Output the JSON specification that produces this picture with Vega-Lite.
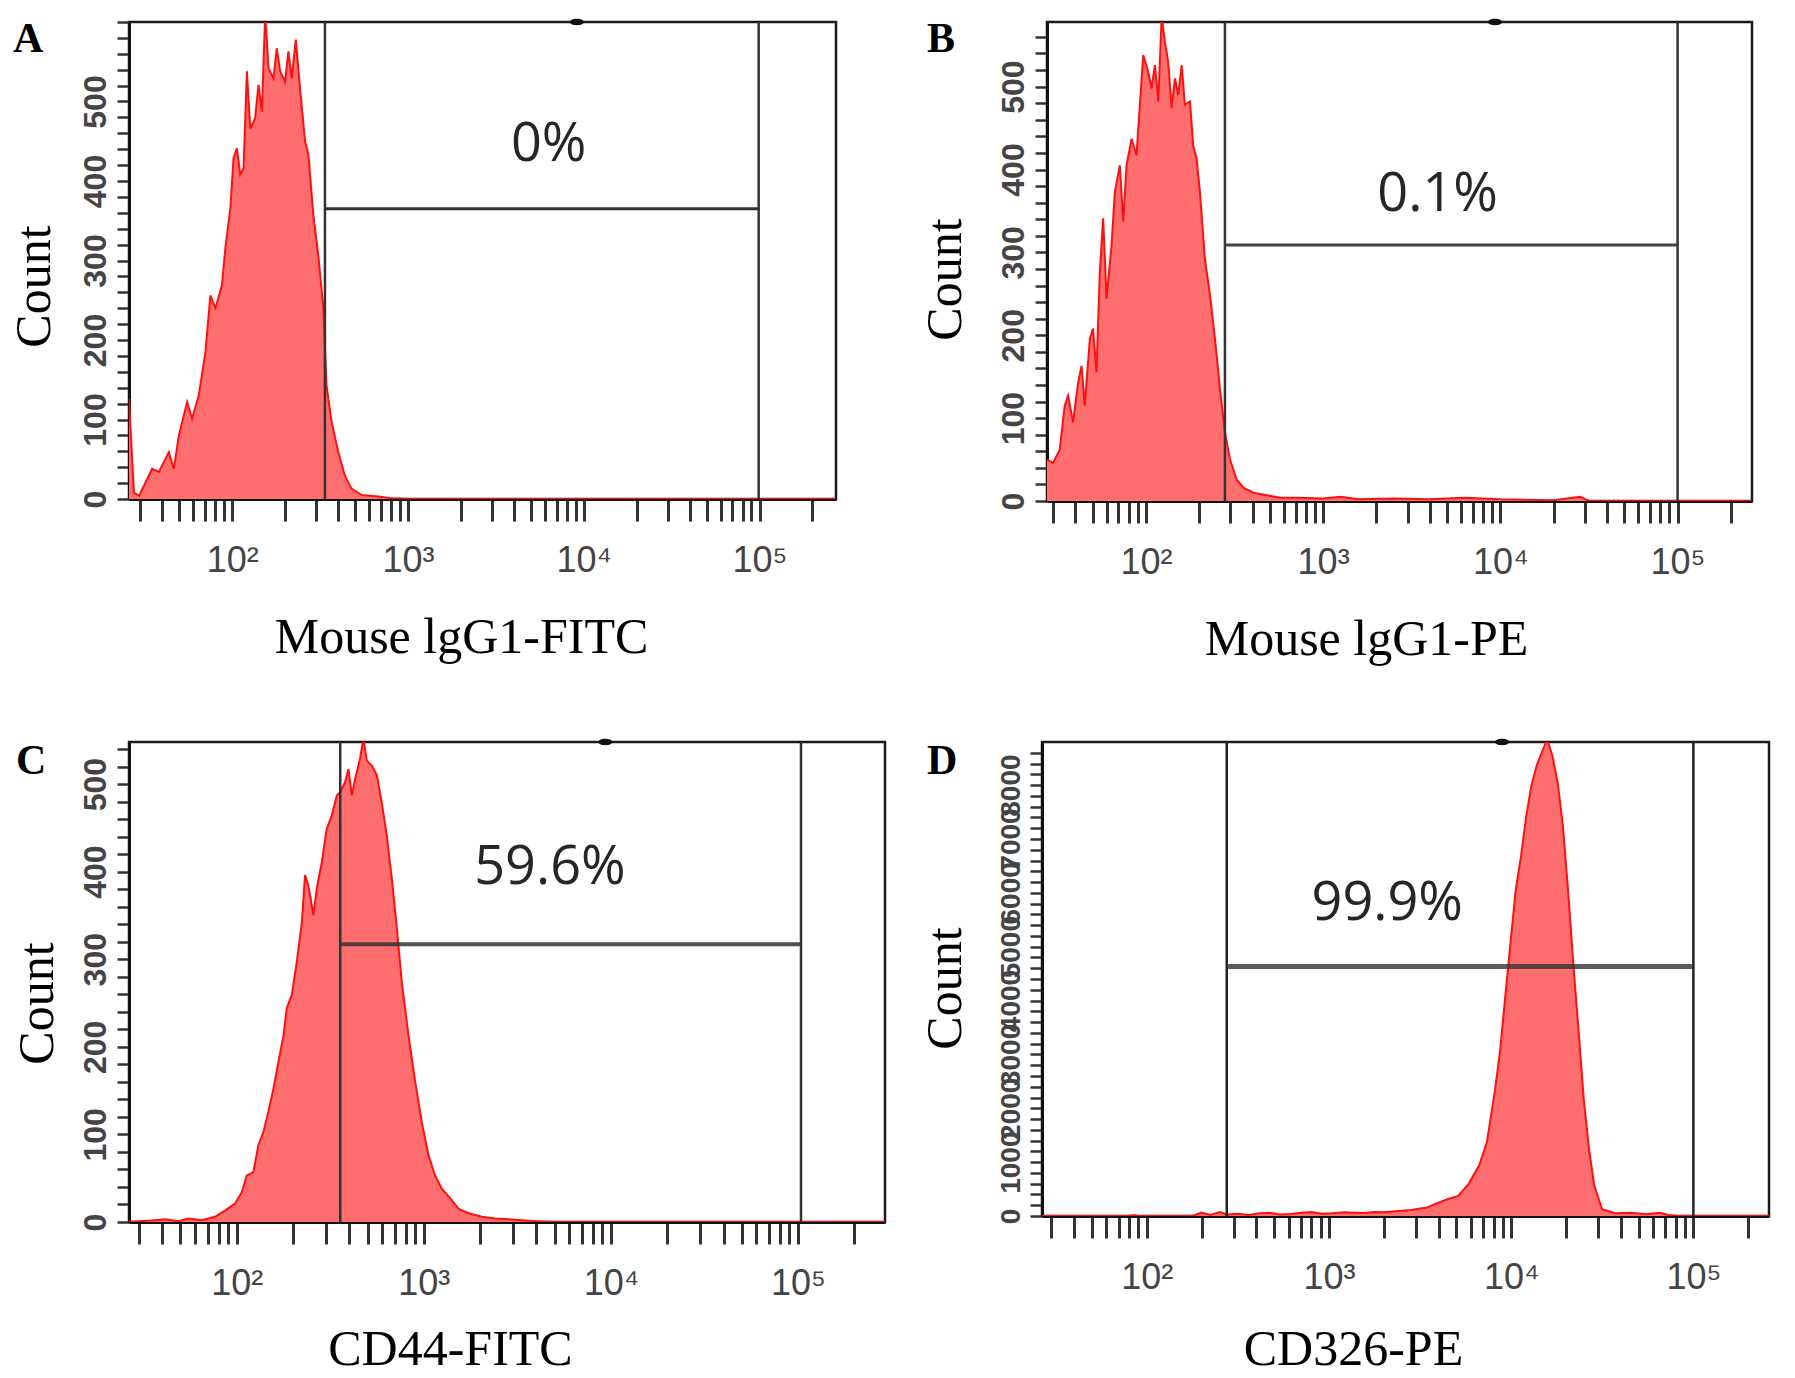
{
  "$schema": "https://vega.github.io/schema/vega-lite/v6.json",
  "padding": {"left": 7, "top": 16, "right": 0, "bottom": 0},
  "background": "white",
  "config": {
    "view": {"stroke": "#1a1a1a", "strokeWidth": 2.5},
    "axis": {
      "grid": false, "domainColor": "#111", "domainWidth": 3, "tickColor": "#333", "tickCount": 1000,
      "labelOverlap": false, "labelBound": false, "labelFlush": false,
      "titleFont": "Liberation Serif", "titleFontSize": 50, "titleFontWeight": "normal", "titleColor": "#000"
    },
    "axisX": {
      "tickSize": 22, "tickWidth": 3, "labelFont": "Liberation Sans Narrow, Liberation Sans",
      "labelFontSize": 36, "labelColor": "#444", "labelPadding": 22, "titlePadding": 34
    },
    "axisY": {
      "tickSize": 12, "tickWidth": 2.5, "labelAngle": 270, "labelFont": "Liberation Sans",
      "labelFontWeight": "bold", "labelFontSize": 32, "labelColor": "#444", "labelPadding": 5, "titlePadding": 20
    },
    "title": {"anchor": "start", "frame": "bounds", "font": "Liberation Serif", "fontSize": 42, "fontWeight": "bold", "color": "#000", "offset": -44}
  },
  "datasets": {
    "histA": [
      {"log_intensity": 1.412, "count": 126}, {"log_intensity": 1.44, "count": 8}, {"log_intensity": 1.469, "count": 4},
      {"log_intensity": 1.507, "count": 21}, {"log_intensity": 1.544, "count": 38}, {"log_intensity": 1.582, "count": 34},
      {"log_intensity": 1.639, "count": 59}, {"log_intensity": 1.667, "count": 38}, {"log_intensity": 1.696, "count": 80},
      {"log_intensity": 1.743, "count": 122}, {"log_intensity": 1.771, "count": 101}, {"log_intensity": 1.809, "count": 130},
      {"log_intensity": 1.847, "count": 185}, {"log_intensity": 1.875, "count": 256}, {"log_intensity": 1.904, "count": 240},
      {"log_intensity": 1.941, "count": 269}, {"log_intensity": 1.96, "count": 315}, {"log_intensity": 1.989, "count": 366},
      {"log_intensity": 2.007, "count": 429}, {"log_intensity": 2.026, "count": 441}, {"log_intensity": 2.045, "count": 408},
      {"log_intensity": 2.064, "count": 416}, {"log_intensity": 2.083, "count": 538}, {"log_intensity": 2.102, "count": 466},
      {"log_intensity": 2.13, "count": 479}, {"log_intensity": 2.149, "count": 521}, {"log_intensity": 2.168, "count": 487},
      {"log_intensity": 2.187, "count": 610}, {"log_intensity": 2.206, "count": 542}, {"log_intensity": 2.234, "count": 529},
      {"log_intensity": 2.253, "count": 567}, {"log_intensity": 2.272, "count": 538}, {"log_intensity": 2.3, "count": 525},
      {"log_intensity": 2.319, "count": 563}, {"log_intensity": 2.338, "count": 529}, {"log_intensity": 2.361, "count": 578},
      {"log_intensity": 2.385, "count": 517}, {"log_intensity": 2.414, "count": 450}, {"log_intensity": 2.433, "count": 433},
      {"log_intensity": 2.461, "count": 357}, {"log_intensity": 2.489, "count": 307}, {"log_intensity": 2.518, "count": 240},
      {"log_intensity": 2.536, "count": 143}, {"log_intensity": 2.565, "count": 97}, {"log_intensity": 2.603, "count": 59},
      {"log_intensity": 2.641, "count": 29}, {"log_intensity": 2.678, "count": 13}, {"log_intensity": 2.735, "count": 5},
      {"log_intensity": 2.829, "count": 3}, {"log_intensity": 2.905, "count": 1}, {"log_intensity": 3.0, "count": 0},
      {"log_intensity": 5.435, "count": 0}
    ],
    "histB": [
      {"log_intensity": 1.442, "count": 50}, {"log_intensity": 1.476, "count": 46}, {"log_intensity": 1.514, "count": 62},
      {"log_intensity": 1.542, "count": 115}, {"log_intensity": 1.561, "count": 127}, {"log_intensity": 1.589, "count": 95},
      {"log_intensity": 1.618, "count": 143}, {"log_intensity": 1.637, "count": 163}, {"log_intensity": 1.655, "count": 115},
      {"log_intensity": 1.684, "count": 196}, {"log_intensity": 1.702, "count": 208}, {"log_intensity": 1.721, "count": 155},
      {"log_intensity": 1.74, "count": 276}, {"log_intensity": 1.759, "count": 341}, {"log_intensity": 1.778, "count": 244},
      {"log_intensity": 1.806, "count": 308}, {"log_intensity": 1.825, "count": 373}, {"log_intensity": 1.853, "count": 405},
      {"log_intensity": 1.872, "count": 337}, {"log_intensity": 1.891, "count": 405}, {"log_intensity": 1.919, "count": 437},
      {"log_intensity": 1.947, "count": 417}, {"log_intensity": 1.985, "count": 538}, {"log_intensity": 2.013, "count": 518},
      {"log_intensity": 2.032, "count": 498}, {"log_intensity": 2.051, "count": 526}, {"log_intensity": 2.07, "count": 482},
      {"log_intensity": 2.089, "count": 585}, {"log_intensity": 2.107, "count": 554}, {"log_intensity": 2.126, "count": 530},
      {"log_intensity": 2.145, "count": 474}, {"log_intensity": 2.164, "count": 510}, {"log_intensity": 2.183, "count": 490},
      {"log_intensity": 2.202, "count": 526}, {"log_intensity": 2.22, "count": 478}, {"log_intensity": 2.249, "count": 482},
      {"log_intensity": 2.267, "count": 429}, {"log_intensity": 2.286, "count": 413}, {"log_intensity": 2.305, "count": 373},
      {"log_intensity": 2.333, "count": 292}, {"log_intensity": 2.362, "count": 248}, {"log_intensity": 2.39, "count": 196},
      {"log_intensity": 2.418, "count": 135}, {"log_intensity": 2.446, "count": 83}, {"log_intensity": 2.475, "count": 50},
      {"log_intensity": 2.512, "count": 26}, {"log_intensity": 2.55, "count": 16}, {"log_intensity": 2.606, "count": 10},
      {"log_intensity": 2.682, "count": 7}, {"log_intensity": 2.757, "count": 4}, {"log_intensity": 2.85, "count": 4},
      {"log_intensity": 3.0, "count": 3}, {"log_intensity": 3.1, "count": 5}, {"log_intensity": 3.2, "count": 2},
      {"log_intensity": 3.4, "count": 3}, {"log_intensity": 3.6, "count": 2}, {"log_intensity": 3.8, "count": 4},
      {"log_intensity": 4.0, "count": 2}, {"log_intensity": 4.3, "count": 1}, {"log_intensity": 4.45, "count": 5},
      {"log_intensity": 4.5, "count": 0}, {"log_intensity": 5.42, "count": 0}
    ],
    "histC": [
      {"log_intensity": 1.424, "count": 0}, {"log_intensity": 1.563, "count": 2}, {"log_intensity": 1.617, "count": 3},
      {"log_intensity": 1.688, "count": 1}, {"log_intensity": 1.742, "count": 4}, {"log_intensity": 1.813, "count": 2},
      {"log_intensity": 1.884, "count": 6}, {"log_intensity": 1.937, "count": 13}, {"log_intensity": 1.991, "count": 21},
      {"log_intensity": 2.027, "count": 34}, {"log_intensity": 2.053, "count": 53}, {"log_intensity": 2.089, "count": 57},
      {"log_intensity": 2.116, "count": 88}, {"log_intensity": 2.143, "count": 103}, {"log_intensity": 2.169, "count": 126},
      {"log_intensity": 2.196, "count": 152}, {"log_intensity": 2.223, "count": 183}, {"log_intensity": 2.25, "count": 213},
      {"log_intensity": 2.267, "count": 244}, {"log_intensity": 2.294, "count": 259}, {"log_intensity": 2.321, "count": 297},
      {"log_intensity": 2.348, "count": 342}, {"log_intensity": 2.365, "count": 396}, {"log_intensity": 2.383, "count": 384},
      {"log_intensity": 2.41, "count": 350}, {"log_intensity": 2.428, "count": 381}, {"log_intensity": 2.455, "count": 411},
      {"log_intensity": 2.481, "count": 449}, {"log_intensity": 2.508, "count": 464}, {"log_intensity": 2.535, "count": 487},
      {"log_intensity": 2.553, "count": 491}, {"log_intensity": 2.579, "count": 502}, {"log_intensity": 2.597, "count": 517},
      {"log_intensity": 2.615, "count": 487}, {"log_intensity": 2.633, "count": 506}, {"log_intensity": 2.659, "count": 529},
      {"log_intensity": 2.677, "count": 552}, {"log_intensity": 2.695, "count": 527}, {"log_intensity": 2.722, "count": 521},
      {"log_intensity": 2.749, "count": 510}, {"log_intensity": 2.775, "count": 479}, {"log_intensity": 2.802, "count": 441},
      {"log_intensity": 2.829, "count": 392}, {"log_intensity": 2.856, "count": 335}, {"log_intensity": 2.882, "count": 274},
      {"log_intensity": 2.918, "count": 213}, {"log_intensity": 2.954, "count": 160}, {"log_intensity": 2.989, "count": 114},
      {"log_intensity": 3.025, "count": 76}, {"log_intensity": 3.06, "count": 53}, {"log_intensity": 3.096, "count": 38},
      {"log_intensity": 3.141, "count": 27}, {"log_intensity": 3.186, "count": 15}, {"log_intensity": 3.239, "count": 10},
      {"log_intensity": 3.31, "count": 6}, {"log_intensity": 3.381, "count": 4}, {"log_intensity": 3.453, "count": 3},
      {"log_intensity": 3.524, "count": 2}, {"log_intensity": 3.6, "count": 1}, {"log_intensity": 3.7, "count": 0},
      {"log_intensity": 5.465, "count": 0}
    ],
    "histD": [
      {"log_intensity": 1.425, "count": 0}, {"log_intensity": 1.9, "count": 0}, {"log_intensity": 1.928, "count": 12},
      {"log_intensity": 1.96, "count": 0}, {"log_intensity": 2.25, "count": 0}, {"log_intensity": 2.301, "count": 62},
      {"log_intensity": 2.35, "count": 20}, {"log_intensity": 2.402, "count": 75}, {"log_intensity": 2.439, "count": 30},
      {"log_intensity": 2.5, "count": 40}, {"log_intensity": 2.56, "count": 20}, {"log_intensity": 2.62, "count": 50},
      {"log_intensity": 2.675, "count": 62}, {"log_intensity": 2.73, "count": 30}, {"log_intensity": 2.79, "count": 37},
      {"log_intensity": 2.85, "count": 60}, {"log_intensity": 2.904, "count": 75}, {"log_intensity": 2.96, "count": 40},
      {"log_intensity": 3.019, "count": 50}, {"log_intensity": 3.08, "count": 70}, {"log_intensity": 3.134, "count": 62},
      {"log_intensity": 3.19, "count": 55}, {"log_intensity": 3.249, "count": 75}, {"log_intensity": 3.3, "count": 70},
      {"log_intensity": 3.364, "count": 87}, {"log_intensity": 3.45, "count": 112}, {"log_intensity": 3.537, "count": 156},
      {"log_intensity": 3.594, "count": 237}, {"log_intensity": 3.651, "count": 312}, {"log_intensity": 3.709, "count": 374},
      {"log_intensity": 3.766, "count": 593}, {"log_intensity": 3.824, "count": 936}, {"log_intensity": 3.867, "count": 1373},
      {"log_intensity": 3.91, "count": 2309}, {"log_intensity": 3.939, "count": 3058}, {"log_intensity": 3.967, "count": 4057},
      {"log_intensity": 3.996, "count": 5055}, {"log_intensity": 4.025, "count": 6054}, {"log_intensity": 4.054, "count": 6678},
      {"log_intensity": 4.083, "count": 7427}, {"log_intensity": 4.111, "count": 7989}, {"log_intensity": 4.14, "count": 8363},
      {"log_intensity": 4.169, "count": 8613}, {"log_intensity": 4.197, "count": 8850}, {"log_intensity": 4.226, "count": 8550},
      {"log_intensity": 4.255, "count": 8051}, {"log_intensity": 4.284, "count": 7240}, {"log_intensity": 4.312, "count": 6054},
      {"log_intensity": 4.341, "count": 4681}, {"log_intensity": 4.37, "count": 3433}, {"log_intensity": 4.398, "count": 2184},
      {"log_intensity": 4.427, "count": 1248}, {"log_intensity": 4.456, "count": 562}, {"log_intensity": 4.499, "count": 125},
      {"log_intensity": 4.571, "count": 50}, {"log_intensity": 4.657, "count": 62}, {"log_intensity": 4.743, "count": 31},
      {"log_intensity": 4.815, "count": 62}, {"log_intensity": 4.873, "count": 12}, {"log_intensity": 4.916, "count": 0},
      {"log_intensity": 5.415, "count": 0}
    ]
  },
  "vconcat": [
    {
      "spacing": 80,
      "hconcat": [
        {
          "title": {"text": "A", "dx": 4, "offset": -42},
          "width": 707, "height": 477,
          "layer": [
            {
              "data": {"name": "histA"},
              "mark": {"type": "area", "color": "#ff6e6e", "opacity": 1, "clip": true, "line": {"color": "#ff1010", "strokeWidth": 2}},
              "encoding": {
                "x": {"field": "log_intensity", "type": "quantitative", "title": "Mouse lgG1-FITC",
                  "scale": {"domain": [1.412, 5.435], "nice": false, "zero": false},
                  "axis": {"titleX": 332, "values": [1.477,1.602,1.699,1.778,1.845,1.903,1.954,2,2.301,2.477,2.602,2.699,2.778,2.845,2.903,2.954,3,3.301,3.477,3.602,3.699,3.778,3.845,3.903,3.954,4,4.301,4.477,4.602,4.699,4.778,4.845,4.903,4.954,5,5.301],
                    "labelExpr": "datum.value == 2 ? '10²' : datum.value == 3 ? '10³' : datum.value == 4 ? '10⁴' : datum.value == 5 ? '10⁵' : ''"}},
                "y": {"field": "count", "type": "quantitative", "title": "Count",
                  "scale": {"domain": [0, 600], "nice": false},
                  "axis": {"titleY": 264, "values": [0,20,40,60,80,100,120,140,160,180,200,220,240,260,280,300,320,340,360,380,400,420,440,460,480,500,520,540,560,580,600],
                    "labelExpr": "datum.value % 100 == 0 && datum.value < 600 ? datum.value : ''"}}
              }
            },
            {
              "data": {"values": [{"log_intensity": 2.527}, {"log_intensity": 4.995}]},
              "mark": {"type": "rule", "color": "#333", "strokeWidth": 2.5},
              "encoding": {"x": {"field": "log_intensity", "type": "quantitative"}}
            },
            {
              "data": {"values": [{"log_intensity": 2.527, "log_intensity_end": 4.995, "count": 365}]},
              "mark": {"type": "rule", "color": "#333", "strokeWidth": 3},
              "encoding": {"x": {"field": "log_intensity", "type": "quantitative"}, "x2": {"field": "log_intensity_end"}, "y": {"field": "count", "type": "quantitative"}}
            },
            {
              "data": {"values": [{"log_intensity": 3.8, "count": 445, "label": "0%"}]},
              "mark": {"type": "text", "font": "Open Sans", "fontSize": 54, "color": "#262626", "align": "center", "baseline": "middle"},
              "encoding": {"x": {"field": "log_intensity", "type": "quantitative"}, "y": {"field": "count", "type": "quantitative"}, "text": {"field": "label"}}
            },
            {
              "data": {"values": [{"log_intensity": 3.96, "count": 600}]},
              "mark": {"type": "point", "shape": "M-1,0A1,0.45,0,1,0,1,0A1,0.45,0,1,0,-1,0Z", "size": 200, "filled": true, "color": "#111", "opacity": 1, "clip": false},
              "encoding": {"x": {"field": "log_intensity", "type": "quantitative"}, "y": {"field": "count", "type": "quantitative"}}
            }
          ]
        },
        {
          "title": {"text": "B", "dx": 7, "offset": -42},
          "width": 705, "height": 479,
          "layer": [
            {
              "data": {"name": "histB"},
              "mark": {"type": "area", "color": "#ff6e6e", "opacity": 1, "clip": true, "line": {"color": "#ff1010", "strokeWidth": 2}},
              "encoding": {
                "x": {"field": "log_intensity", "type": "quantitative", "title": "Mouse lgG1-PE",
                  "scale": {"domain": [1.442, 5.42], "nice": false, "zero": false},
                  "axis": {"titleX": 319, "values": [1.477,1.602,1.699,1.778,1.845,1.903,1.954,2,2.301,2.477,2.602,2.699,2.778,2.845,2.903,2.954,3,3.301,3.477,3.602,3.699,3.778,3.845,3.903,3.954,4,4.301,4.477,4.602,4.699,4.778,4.845,4.903,4.954,5,5.301],
                    "labelExpr": "datum.value == 2 ? '10²' : datum.value == 3 ? '10³' : datum.value == 4 ? '10⁴' : datum.value == 5 ? '10⁵' : ''"}},
                "y": {"field": "count", "type": "quantitative", "title": "Count",
                  "scale": {"domain": [0, 578], "nice": false},
                  "axis": {"titleY": 257, "titlePadding": 27, "values": [0,20,40,60,80,100,120,140,160,180,200,220,240,260,280,300,320,340,360,380,400,420,440,460,480,500,520,540,560],
                    "labelExpr": "datum.value % 100 == 0 ? datum.value : ''"}}
              }
            },
            {
              "data": {"values": [{"log_intensity": 2.446}, {"log_intensity": 5.0}]},
              "mark": {"type": "rule", "color": "#333", "strokeWidth": 2.5},
              "encoding": {"x": {"field": "log_intensity", "type": "quantitative"}}
            },
            {
              "data": {"values": [{"log_intensity": 2.446, "log_intensity_end": 5.0, "count": 309}]},
              "mark": {"type": "rule", "color": "#444", "strokeWidth": 3},
              "encoding": {"x": {"field": "log_intensity", "type": "quantitative"}, "x2": {"field": "log_intensity_end"}, "y": {"field": "count", "type": "quantitative"}}
            },
            {
              "data": {"values": [{"log_intensity": 3.646, "count": 369, "label": "0.1%"}]},
              "mark": {"type": "text", "font": "Open Sans", "fontSize": 54, "color": "#262626", "align": "center", "baseline": "middle"},
              "encoding": {"x": {"field": "log_intensity", "type": "quantitative"}, "y": {"field": "count", "type": "quantitative"}, "text": {"field": "label"}}
            },
            {
              "data": {"values": [{"log_intensity": 3.97, "count": 578}]},
              "mark": {"type": "point", "shape": "M-1,0A1,0.45,0,1,0,1,0A1,0.45,0,1,0,-1,0Z", "size": 200, "filled": true, "color": "#111", "opacity": 1, "clip": false},
              "encoding": {"x": {"field": "log_intensity", "type": "quantitative"}, "y": {"field": "count", "type": "quantitative"}}
            }
          ]
        }
      ]
    },
    {
      "spacing": 31,
      "hconcat": [
        {
          "title": {"text": "C", "dx": 4, "offset": -44},
          "width": 756, "height": 480,
          "layer": [
            {
              "data": {"name": "histC"},
              "mark": {"type": "area", "color": "#ff6e6e", "opacity": 1, "clip": true, "line": {"color": "#ff1010", "strokeWidth": 2}},
              "encoding": {
                "x": {"field": "log_intensity", "type": "quantitative", "title": "CD44-FITC",
                  "scale": {"domain": [1.424, 5.465], "nice": false, "zero": false},
                  "axis": {"titleX": 321, "titlePadding": 23, "values": [1.477,1.602,1.699,1.778,1.845,1.903,1.954,2,2.301,2.477,2.602,2.699,2.778,2.845,2.903,2.954,3,3.301,3.477,3.602,3.699,3.778,3.845,3.903,3.954,4,4.301,4.477,4.602,4.699,4.778,4.845,4.903,4.954,5,5.301],
                    "labelExpr": "datum.value == 2 ? '10²' : datum.value == 3 ? '10³' : datum.value == 4 ? '10⁴' : datum.value == 5 ? '10⁵' : ''"}},
                "y": {"field": "count", "type": "quantitative", "title": "Count",
                  "scale": {"domain": [0, 548], "nice": false},
                  "axis": {"titleY": 261, "titlePadding": 17, "values": [0,20,40,60,80,100,120,140,160,180,200,220,240,260,280,300,320,340,360,380,400,420,440,460,480,500,520,540],
                    "labelExpr": "datum.value % 100 == 0 ? datum.value : ''"}}
              }
            },
            {
              "data": {"values": [{"log_intensity": 2.553}, {"log_intensity": 5.016}]},
              "mark": {"type": "rule", "color": "#333", "strokeWidth": 2.5},
              "encoding": {"x": {"field": "log_intensity", "type": "quantitative"}}
            },
            {
              "data": {"values": [{"log_intensity": 2.553, "log_intensity_end": 5.016, "count": 317}]},
              "mark": {"type": "rule", "color": "#333", "strokeWidth": 4, "opacity": 0.85},
              "encoding": {"x": {"field": "log_intensity", "type": "quantitative"}, "x2": {"field": "log_intensity_end"}, "y": {"field": "count", "type": "quantitative"}}
            },
            {
              "data": {"values": [{"log_intensity": 3.674, "count": 404, "label": "59.6%"}]},
              "mark": {"type": "text", "font": "Open Sans", "fontSize": 54, "color": "#262626", "align": "center", "baseline": "middle"},
              "encoding": {"x": {"field": "log_intensity", "type": "quantitative"}, "y": {"field": "count", "type": "quantitative"}, "text": {"field": "label"}}
            },
            {
              "data": {"values": [{"log_intensity": 3.97, "count": 548}]},
              "mark": {"type": "point", "shape": "M-1,0A1,0.45,0,1,0,1,0A1,0.45,0,1,0,-1,0Z", "size": 200, "filled": true, "color": "#111", "opacity": 1, "clip": false},
              "encoding": {"x": {"field": "log_intensity", "type": "quantitative"}, "y": {"field": "count", "type": "quantitative"}}
            }
          ]
        },
        {
          "title": {"text": "D", "dx": 7, "offset": -44},
          "width": 727, "height": 474,
          "layer": [
            {
              "data": {"name": "histD"},
              "mark": {"type": "area", "color": "#ff6e6e", "opacity": 1, "clip": true, "line": {"color": "#ff1010", "strokeWidth": 2}},
              "encoding": {
                "x": {"field": "log_intensity", "type": "quantitative", "title": "CD326-PE",
                  "scale": {"domain": [1.425, 5.415], "nice": false, "zero": false},
                  "axis": {"titleX": 311, "titlePadding": 29, "values": [1.477,1.602,1.699,1.778,1.845,1.903,1.954,2,2.301,2.477,2.602,2.699,2.778,2.845,2.903,2.954,3,3.301,3.477,3.602,3.699,3.778,3.845,3.903,3.954,4,4.301,4.477,4.602,4.699,4.778,4.845,4.903,4.954,5,5.301],
                    "labelExpr": "datum.value == 2 ? '10²' : datum.value == 3 ? '10³' : datum.value == 4 ? '10⁴' : datum.value == 5 ? '10⁵' : ''"}},
                "y": {"field": "count", "type": "quantitative", "title": "Count",
                  "scale": {"domain": [0, 8800], "nice": false},
                  "axis": {"titleY": 246, "titlePadding": 27, "labelFontSize": 28,
                    "values": [0,200,400,600,800,1000,1200,1400,1600,1800,2000,2200,2400,2600,2800,3000,3200,3400,3600,3800,4000,4200,4400,4600,4800,5000,5200,5400,5600,5800,6000,6200,6400,6600,6800,7000,7200,7400,7600,7800,8000,8200,8400,8600],
                    "labelExpr": "datum.value % 1000 == 0 ? datum.value : ''"}}
              }
            },
            {
              "data": {"values": [{"log_intensity": 2.439}, {"log_intensity": 5.0}]},
              "mark": {"type": "rule", "color": "#222", "strokeWidth": 2.5},
              "encoding": {"x": {"field": "log_intensity", "type": "quantitative"}}
            },
            {
              "data": {"values": [{"log_intensity": 2.439, "log_intensity_end": 5.0, "count": 4630}]},
              "mark": {"type": "rule", "color": "#333", "strokeWidth": 5, "opacity": 0.8},
              "encoding": {"x": {"field": "log_intensity", "type": "quantitative"}, "x2": {"field": "log_intensity_end"}, "y": {"field": "count", "type": "quantitative"}}
            },
            {
              "data": {"values": [{"log_intensity": 3.32, "count": 5792, "label": "99.9%"}]},
              "mark": {"type": "text", "font": "Open Sans", "fontSize": 54, "color": "#262626", "align": "center", "baseline": "middle"},
              "encoding": {"x": {"field": "log_intensity", "type": "quantitative"}, "y": {"field": "count", "type": "quantitative"}, "text": {"field": "label"}}
            },
            {
              "data": {"values": [{"log_intensity": 3.95, "count": 8800}]},
              "mark": {"type": "point", "shape": "M-1,0A1,0.45,0,1,0,1,0A1,0.45,0,1,0,-1,0Z", "size": 200, "filled": true, "color": "#111", "opacity": 1, "clip": false},
              "encoding": {"x": {"field": "log_intensity", "type": "quantitative"}, "y": {"field": "count", "type": "quantitative"}}
            }
          ]
        }
      ]
    }
  ],
  "spacing": 71
}
